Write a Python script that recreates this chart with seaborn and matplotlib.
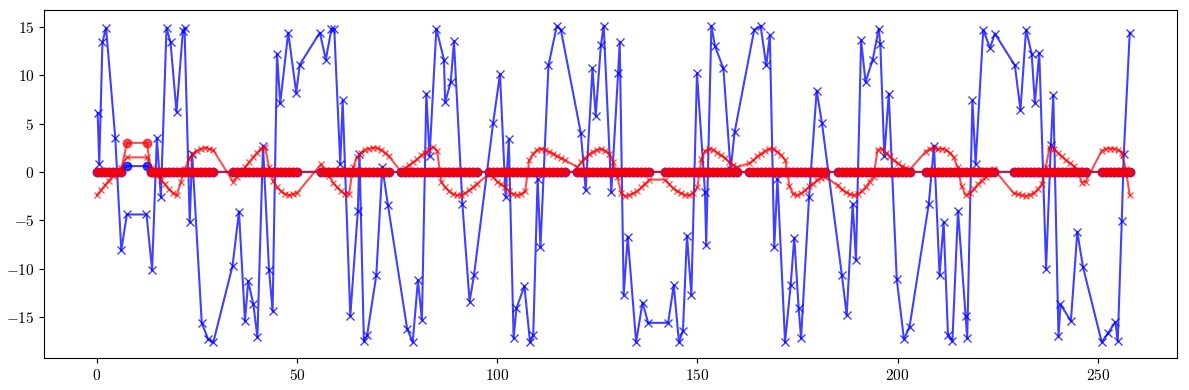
import numpy as np
import pandas as pd
import seaborn as sns
import matplotlib
import matplotlib.pyplot as plt
from matplotlib.ticker import FuncFormatter

matplotlib.rcParams['mathtext.fontset'] = 'cm'
matplotlib.rcParams['font.family'] = 'DejaVu Serif'

# ------------------- DATA -------------------

# shared time grid of the red / circle series
red_t = [0, 1, 2, 3, 4, 5, 6, 7.5, 12.5,
         13.5, 14, 15, 16, 17, 18, 19, 20, 21, 22, 23, 24, 25, 26, 27, 28, 29,
         34, 35, 36, 37, 38, 39, 40, 41, 42, 43, 44, 45, 46, 47, 48, 49, 50,
         56, 57, 58, 59, 60, 61, 62, 63, 64, 65, 66, 67, 68, 69, 70, 71, 72, 73,
         76, 77, 78, 79, 80, 81, 82, 83, 84, 85, 86, 87, 88, 89, 90, 91, 92, 93, 94, 95,
         98, 99, 100, 101, 102, 103, 104, 105, 106, 107, 108, 109, 110, 111, 112, 113, 114, 115, 116, 117,
         120, 121, 122, 123, 124, 125, 126, 127, 128, 129, 130, 131, 132, 133, 134, 135, 136, 137, 138,
         142, 143, 144, 145, 146, 147, 148, 149, 150, 151, 152, 153, 154, 155, 156, 157, 158, 159, 160,
         163, 164, 165, 166, 167, 168, 169, 170, 171, 172, 173, 174, 175, 176, 177, 178, 179, 180, 181, 182,
         185, 186, 187, 188, 189, 190, 191, 192, 193, 194, 195, 196, 197, 198, 199, 200, 201, 202, 203,
         207, 208, 209, 210, 211, 212, 213, 214, 215, 216, 217, 218, 219, 220, 221, 222, 223, 224,
         229, 230, 231, 232, 233, 234, 235, 236, 237, 238, 239, 240, 241, 242, 243, 244, 245, 246, 247,
         251, 252, 253, 254, 255, 256, 257, 258]

red_x = [-2.4, -1.9, -1.4, -0.9, -0.4, 0.1, 0.4, 1.5, 1.5,
         0.4, 0.2, -0.3, -0.8, -1.3, -1.8, -2.2, -2.4, -1.0, 0.3, 1.3, 1.9, 2.2, 2.4, 2.5, 2.4, 2.3,
         -1.0, -0.5, 0.0, 0.5, 1.0, 1.5, 2.0, 2.4, 2.6, 0.5, -0.9, -1.6, -2.0, -2.3, -2.4, -2.3, -2.2,
         0.8, 0.2, -0.4, -1.1, -1.6, -2.0, -2.3, -2.3, 0.5, 1.5, 2.0, 2.3, 2.4, 2.5, 2.5, 2.3, 2.0, 1.6,
         0.0, 0.4, 0.7, 1.0, 1.3, 1.7, 2.0, 2.3, 2.6, 2.2, -1.0, -1.6, -2.0, -2.3, -2.4, -2.4, -2.2, -1.9, -1.6, -1.2,
         -0.2, -0.5, -1.0, -1.3, -1.6, -2.0, -2.3, -2.4, -2.3, -2.0, 1.2, 1.9, 2.3, 2.4, 2.3, 2.1, 1.9, 1.6, 1.4, 1.2,
         0.5, 1.0, 1.4, 1.8, 2.1, 2.3, 2.4, 2.2, 1.9, 1.0, -0.5, -2.2, -2.5, -2.4, -2.2, -2.0, -1.6, -1.2, -0.8,
         -0.8, -1.3, -1.7, -2.0, -2.2, -2.4, -2.4, -2.2, -1.6, 1.3, 2.2, 2.4, 2.3, 2.0, 1.7, 1.4, 1.0, 0.7, 0.5,
         0.9, 1.2, 1.6, 1.9, 2.2, 2.4, 2.4, 2.1, 1.7, 1.2, -1.5, -2.3, -2.4, -2.2, -1.9, -1.5, -1.2, -0.8, -0.6, -0.5,
         -1.4, -1.8, -2.1, -2.3, -2.4, -2.3, -2.0, -1.6, -1.0, -0.5, 2.3, 2.4, 2.0, 1.6, 1.2, 0.9, 0.6, 0.4, 0.2,
         2.1, 2.4, 2.5, 2.4, 2.4, 2.3, 2.0, 1.5, 0.5, -1.5, -2.4, -2.2, -1.8, -1.3, -0.9, -0.5, -0.1, 0.3,
         -2.2, -2.3, -2.4, -2.5, -2.4, -2.2, -1.8, -1.3, 0.5, 2.5, 2.4, 2.0, 1.6, 1.2, 0.9, 0.6, 0.2, -1.1, -1.0,
         2.2, 2.4, 2.4, 2.4, 2.3, 2.0, 0.3, -2.4]

# circle series: flat at zero except the short bump near t = 8..13
red_o = [0, 0, 0, 0, 0, 0, 0, 3.0, 3.0] + [0] * (len(red_t) - 9)
blue_o = [0, 0, 0, 0, 0, 0, 0, 0.6, 0.6] + [0] * (len(red_t) - 9)

# blue crosses (own time stamps)
blue_t = [0.2, 0.6, 1.4, 2.3, 4.6, 6.1, 7.5, 12.4, 13.8, 15.0, 16.0, 17.4, 18.4, 19.9, 21.5, 21.9,
          23.2, 23.8, 26.2, 27.8, 29.1, 33.9, 35.5, 37.0, 37.8, 39.1, 40.1, 41.5, 43.0, 43.9, 45.0,
          45.8, 47.8, 49.8, 50.7, 55.7, 57.2, 58.6, 59.3, 60.8, 61.4, 63.3, 65.2, 65.6, 66.7, 67.5,
          69.8, 71.3, 72.7, 77.5, 78.9, 80.2, 81.2, 82.3, 83.1, 84.8, 86.7, 87.0, 88.4, 89.2, 91.3,
          93.1, 94.2, 99.0, 100.7, 102.1, 102.9, 104.1, 104.8, 106.8, 108.2, 109.0, 110.1, 110.8,
          112.8, 114.9, 115.9, 120.9, 122.1, 123.8, 124.6, 125.9, 126.6, 128.5, 130.2, 130.6, 131.6,
          132.6, 134.7, 136.3, 137.7, 142.7, 144.1, 145.4, 146.4, 147.4, 148.5, 149.9, 151.9, 152.2,
          153.5, 154.4, 156.5, 158.3, 159.3, 164.2, 165.8, 167.2, 168.1, 169.2, 170.0, 171.9, 173.3,
          174.2, 175.3, 175.9, 177.9, 179.8, 181.1, 186.1, 187.3, 188.8, 189.6, 190.9, 192.0, 193.8,
          195.3, 195.7, 196.7, 197.8, 199.8, 201.6, 203.0, 207.8, 209.1, 210.5, 211.5, 212.6, 213.7,
          215.1, 217.0, 217.4, 218.7, 219.5, 221.4, 223.1, 224.3, 229.3, 230.7, 232.1, 233.5, 234.3,
          235.4, 237.1, 238.3, 238.9, 240.2, 240.7, 243.3, 244.9, 246.3, 251.0, 252.5, 254.4, 255.0,
          256.0, 256.5, 258.0]

blue_x = [6.1, 0.8, 13.4, 14.9, 3.5, -8.1, -4.4, -4.4, -10.1, 3.5, -2.6, 14.9, 13.4, 6.2, 14.6, 14.9,
          -5.2, 1.9, -15.6, -17.3, -17.6, -9.7, -4.1, -15.4, -11.3, -13.7, -17.1, 2.7, -10.1, -14.4, 12.2,
          7.1, 14.4, 8.2, 11.1, 14.4, 11.6, 14.8, 14.8, 0.8, 7.4, -14.9, -4.0, 1.8, -17.5, -16.9,
          -10.7, 0.5, -3.4, -16.2, -17.6, -11.2, -15.3, 8.1, 1.6, 14.8, 11.6, 7.2, 9.3, 13.5, -3.3,
          -13.4, -10.7, 5.1, 10.1, -2.6, 3.4, -17.2, -14.1, -11.8, -17.6, -16.9, -0.7, -7.8,
          11.0, 15.1, 14.7, 4.0, -1.9, 10.7, 5.8, 13.1, 15.1, -2.1, 10.2, 13.4, -12.7,
          -6.7, -17.6, -13.5, -15.6, -15.6, -11.7, -17.6, -16.4, -6.6, -12.7, 10.2, -2.1, -7.6,
          15.1, 13.0, 10.7, 0.2, 4.1, 14.7, 15.1, 11.0, 14.1, -7.8, -0.7, -17.6, -11.7,
          -6.8, -14.1, -17.2, -2.6, 8.4, 5.1, -10.7, -14.8, -3.3, -9.1, 13.6, 9.3, 11.6,
          14.8, 13.2, 1.6, 8.1, -11.1, -17.3, -16.0, -3.3, 2.7, -10.7, -5.2, -16.9, -17.5,
          -4.0, -14.9, -17.2, 7.4, 0.8, 14.7, 12.8, 14.3, 11.0, 6.4, 14.7, 12.2, 7.1,
          12.3, -10.0, 2.8, 7.9, -17.0, -13.7, -15.4, -6.2, -9.8, -17.6, -16.7, -15.5, -17.5,
          -5.1, 1.8, 14.4]

# ------------------- PLOT -------------------

fig, ax = plt.subplots(figsize=(11.89, 3.90), dpi=100)

sns.lineplot(x=blue_t, y=blue_x, ax=ax, color='b', marker='x', markeredgecolor='b',
             linewidth=1.5, markersize=6, markeredgewidth=1.0, alpha=0.75)
sns.lineplot(x=red_t, y=red_x, ax=ax, color='r', marker='x', markeredgecolor='r',
             linewidth=1.5, markersize=5, markeredgewidth=0.9, alpha=0.7)
sns.lineplot(x=red_t, y=blue_o, ax=ax, color='b', marker='o', markeredgecolor='b',
             linewidth=1.5, markersize=6, markeredgewidth=1.0, alpha=0.75)
sns.lineplot(x=red_t, y=red_o, ax=ax, color='r', marker='o', markeredgecolor='r',
             linewidth=1.5, markersize=6, markeredgewidth=1.0, alpha=0.7)

ax.set_xlim(-13.2, 269.8)
ax.set_xticks([0, 50, 100, 150, 200, 250])
ax.set_yticks([-15, -10, -5, 0, 5, 10, 15])
fmt = FuncFormatter(lambda v, p: f'${v:g}$')
ax.xaxis.set_major_formatter(fmt)
ax.yaxis.set_major_formatter(fmt)
ax.tick_params(labelsize=11)

fig.subplots_adjust(left=44 / 1189, right=1177 / 1189, top=1 - 10 / 390, bottom=1 - 358 / 390)
fig.savefig('out.png', dpi=100)
